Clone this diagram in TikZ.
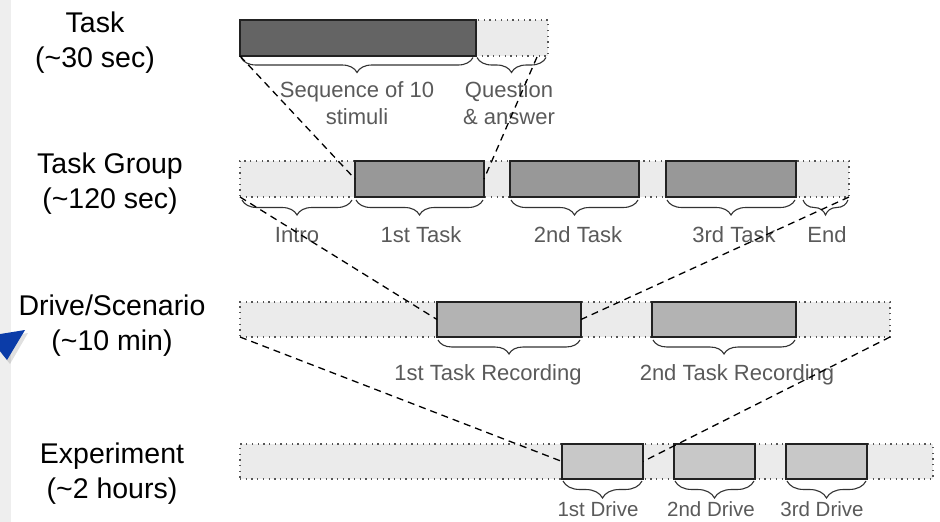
\documentclass[tikz,border=0pt]{standalone}
\usepackage{fontspec}
\setmainfont{Liberation Sans}
\usetikzlibrary{decorations.pathreplacing,calc}

\definecolor{stripgray}{HTML}{EEEEEE}
\definecolor{barfill}{HTML}{EBEBEB}
\definecolor{dotline}{HTML}{555555}
\definecolor{edge}{HTML}{222222}
\definecolor{taskfill}{HTML}{646464}
\definecolor{groupfill}{HTML}{989898}
\definecolor{recfill}{HTML}{B3B3B3}
\definecolor{drivefill}{HTML}{C8C8C8}
\definecolor{labelgray}{HTML}{5A5A5A}
\definecolor{markerblue}{HTML}{0B3CA8}

\tikzset{
  seg/.style={rectangle, inner sep=0pt, outer sep=0pt, anchor=north west},
  bar/.style={seg, fill=barfill, draw=dotline, line width=1.2pt,
              dash pattern=on 1.3pt off 4.4pt},
  blockbox/.style={seg, draw=edge, line width=1.5pt},
  brc/.style={draw=black!80, line width=1.1pt,
              decorate, decoration={brace, mirror, amplitude=#1}},
  brc/.default=15pt,
  link/.style={draw=black, line width=1.3pt, dash pattern=on 7pt off 5pt},
  side/.style={align=center, inner sep=0pt, font=\fontsize{28.5}{35}\selectfont},
  lbl/.style={align=center, inner sep=0pt, text=labelgray,
              font=\fontsize{22}{27}\selectfont},
  lbls/.style={lbl, font=\fontsize{20.5}{24}\selectfont},
}

\begin{document}
\begin{tikzpicture}[x=1pt,y=-1pt]
  \useasboundingbox (0,0) rectangle (940,522);
  \fill[white] (0,0) rectangle (940,522);
  \fill[stripgray] (0,0) rectangle (11,522);

  % blue marker at the left edge, partly cut off
  \begin{scope}
    \clip (0,0) rectangle (940,522);
    \fill[black, opacity=0.12] (-10,339) -- (28,333) -- (10,364) -- cycle;
    \fill[markerblue] (-12,336) -- (25,330) -- (7,360) -- cycle;
  \end{scope}

  % row titles
  \node[side] (h-task)  at (95,43)  {Task\\(\textasciitilde 30 sec)};
  \node[side] (h-group) at (110,184) {Task Group\\(\textasciitilde 120 sec)};
  \node[side] (h-drive) at (112,325.5) {Drive/Scenario\\(\textasciitilde 10 min)};
  \node[side] (h-exp)   at (112,473.5) {Experiment\\(\textasciitilde 2 hours)};

  % ---- Task ----
  \node[bar, minimum width=72pt, minimum height=36pt] (qa) at (476,20) {};
  \node[blockbox, fill=taskfill, minimum width=236pt, minimum height=36pt] (seq) at (240,20) {};
  \draw[brc] ($(seq.south west)+(1,1.5)$) -- ($(seq.south east)+(-3,1.5)$);
  \draw[brc] ($(qa.south west)+(1,1.5)$) -- ($(qa.south east)+(-2,1.5)$);
  \node[lbl] (l-seq) at (357,103) {Sequence of 10\\stimuli};
  \node[lbl] (l-qa)  at (509,103) {Question\\\& answer};
  \coordinate (qa-end) at (537,57);

  % ---- Task Group ----
  \node[bar, minimum width=609pt, minimum height=36pt] (tg) at (240,161) {};
  \node[blockbox, fill=groupfill, minimum width=129pt, minimum height=36pt] (t1) at (355,161) {};
  \node[blockbox, fill=groupfill, minimum width=129pt, minimum height=36pt] (t2) at (510,161) {};
  \node[blockbox, fill=groupfill, minimum width=130pt, minimum height=36pt] (t3) at (666,161) {};
  \draw[brc] ($(tg.south west)+(2,3)$) -- ($(t1.south west)+(-3,3)$);
  \draw[brc] ($(t1.south west)+(1,3)$) -- ($(t1.south east)+(-1,3)$);
  \draw[brc] ($(t2.south west)+(1,3)$) -- ($(t2.south east)+(-1,3)$);
  \draw[brc] ($(t3.south west)+(1,3)$) -- ($(t3.south east)+(-1,3)$);
  \draw[brc] ($(t3.south east)+(7,3)$) -- ($(tg.south east)+(-1,3)$);
  \node[lbl] (l-intro) at (297,235) {Intro};
  \node[lbl] (l-t1)    at (421,235) {1st Task};
  \node[lbl] (l-t2)    at (578,235) {2nd Task};
  \node[lbl] (l-t3)    at (734,235) {3rd Task};
  \node[lbl] (l-end)   at (827,235) {End};

  % ---- Drive / Scenario ----
  \node[bar, minimum width=650pt, minimum height=35pt] (dr) at (240,302) {};
  \node[blockbox, fill=recfill, minimum width=144pt, minimum height=35pt] (r1) at (437,302) {};
  \node[blockbox, fill=recfill, minimum width=144pt, minimum height=35pt] (r2) at (652,302) {};
  \draw[brc=14pt] ($(r1.south west)+(1,3)$) -- ($(r1.south east)+(-1,3)$);
  \draw[brc=14pt] ($(r2.south west)+(1,3)$) -- ($(r2.south east)+(-1,3)$);
  \node[lbl] (l-r1) at (488,375) {1st Task Recording};
  \node[lbl] (l-r2) at (737,375) {2nd Task Recording};

  % ---- Experiment ----
  \node[bar, minimum width=693pt, minimum height=35pt] (ex) at (240,444) {};
  \node[blockbox, fill=drivefill, minimum width=81pt, minimum height=35pt] (d1) at (562,444) {};
  \node[blockbox, fill=drivefill, minimum width=81pt, minimum height=35pt] (d2) at (674,444) {};
  \node[blockbox, fill=drivefill, minimum width=81pt, minimum height=35pt] (d3) at (786,444) {};
  \draw[brc=17pt] ($(d1.south west)+(1,2)$) -- ($(d1.south east)+(-1,2)$);
  \draw[brc=17pt] ($(d2.south west)+(1,2)$) -- ($(d2.south east)+(-1,2)$);
  \draw[brc=17pt] ($(d3.south west)+(1,2)$) -- ($(d3.south east)+(-1,2)$);
  \node[lbls] (l-d1) at (598,509) {1st Drive};
  \node[lbls] (l-d2) at (711,509) {2nd Drive};
  \node[lbls] (l-d3) at (822,509) {3rd Drive};

  % zoom-in connectors between levels
  \draw[link] (seq.south west) -- (t1.west);
  \draw[link] (qa-end) -- (t1.east);
  \draw[link] (tg.south west) -- (r1.west);
  \draw[link] (tg.south east) -- (r1.east);
  \draw[link] (dr.south west) -- (d1.west);
  \draw[link] (dr.south east) -- (d1.east);
\end{tikzpicture}
\end{document}
